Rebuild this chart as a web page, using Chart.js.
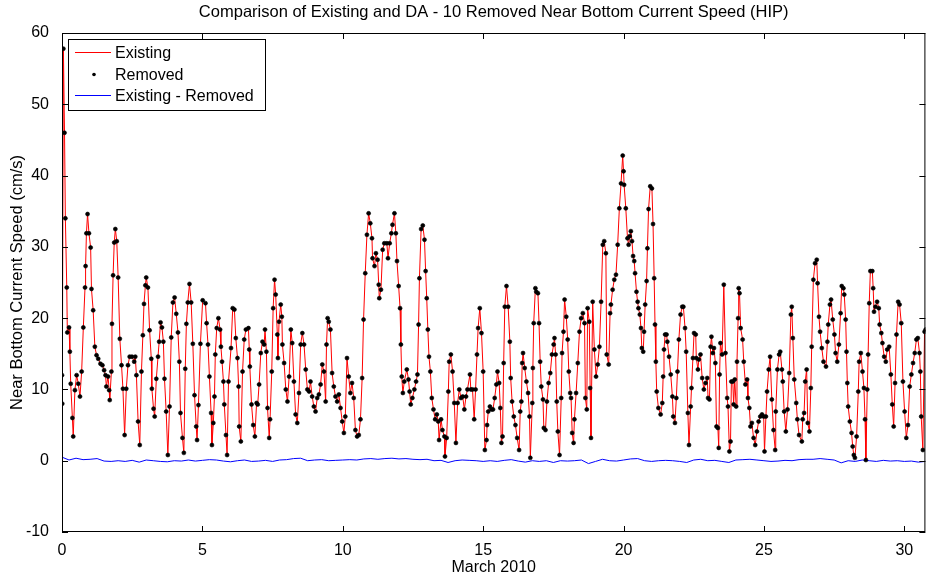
<!DOCTYPE html>
<html>
<head>
<meta charset="utf-8">
<title>Near Bottom Current Speed (HIP)</title>
<script src="https://cdn.jsdelivr.net/npm/chart.js@4.4.1/dist/chart.umd.min.js"></script>
<style>
  html, body { margin: 0; padding: 0; background: #fff; }
  #wrap { width: 930px; height: 579px; }
</style>
</head>
<body>
<div id="wrap"><canvas id="speed" width="930" height="579"></canvas></div>
<script>
// time in days since 1 March 2010
const days = [
  0.00, 0.01, 0.05, 0.09, 0.12, 0.17, 0.19, 0.25, 0.28, 0.31, 0.37, 0.40, 0.46, 0.52, 0.58, 0.64, 0.70, 0.76, 0.82, 0.84,
  0.87, 0.91, 0.96, 1.02, 1.05, 1.11, 1.17, 1.23, 1.29, 1.37, 1.44, 1.50, 1.55, 1.58, 1.64, 1.68, 1.70, 1.76, 1.78, 1.82,
  1.86, 1.90, 1.95, 2.00, 2.06, 2.12, 2.17, 2.23, 2.29, 2.35, 2.41, 2.49, 2.57, 2.61, 2.65, 2.71, 2.77, 2.83, 2.88, 2.92,
  2.97, 3.00, 3.06, 3.12, 3.18, 3.20, 3.26, 3.30, 3.36, 3.42, 3.46, 3.51, 3.56, 3.61, 3.65, 3.71, 3.77, 3.83, 3.89, 3.95,
  4.01, 4.07, 4.13, 4.18, 4.22, 4.29, 4.34, 4.39, 4.43, 4.48, 4.54, 4.60, 4.66, 4.72, 4.78, 4.81, 4.86, 4.93, 5.01,
  5.11, 5.15, 5.20, 5.25, 5.31, 5.34, 5.39, 5.43, 5.46, 5.51, 5.57, 5.63, 5.66, 5.70, 5.75, 5.78, 5.84, 5.88, 5.93, 6.02,
  6.08, 6.14, 6.19, 6.25, 6.29, 6.31, 6.37, 6.43, 6.49, 6.55, 6.64, 6.67, 6.69, 6.75, 6.81, 6.87, 6.93, 6.97, 7.02, 7.08,
  7.14, 7.20, 7.23, 7.28, 7.32, 7.38, 7.41, 7.47, 7.52, 7.57, 7.61, 7.67, 7.69, 7.73, 7.79, 7.83, 7.85, 7.91, 7.97, 8.03,
  8.09, 8.15, 8.20, 8.26, 8.32, 8.38, 8.44, 8.50, 8.56, 8.62, 8.68, 8.74, 8.80, 8.85, 8.91, 8.97, 9.03, 9.09, 9.15, 9.21,
  9.27, 9.33, 9.39, 9.42, 9.46, 9.50, 9.56, 9.62, 9.68, 9.74, 9.80,
  9.86, 9.92, 9.98, 10.04, 10.09, 10.15, 10.21, 10.27, 10.33, 10.39, 10.45, 10.51, 10.57, 10.63, 10.69, 10.74, 10.80, 10.86, 10.92, 10.98,
  11.04, 11.06, 11.13, 11.18, 11.24, 11.28, 11.30, 11.36, 11.42, 11.48, 11.57, 11.61, 11.67, 11.73, 11.77, 11.84, 11.89, 11.93, 11.99, 12.04,
  12.07, 12.10, 12.14, 12.19, 12.28, 12.34, 12.38, 12.42, 12.48, 12.55, 12.61, 12.66, 12.70, 12.73, 12.79, 12.85, 12.91, 12.95, 12.99, 13.03,
  13.07, 13.12, 13.17, 13.23, 13.29, 13.35, 13.40, 13.43, 13.50, 13.55, 13.62, 13.64, 13.70, 13.76, 13.79, 13.85, 13.91, 13.97, 14.03, 14.09,
  14.15, 14.21, 14.27, 14.33, 14.39, 14.44, 14.53, 14.56, 14.62, 14.68, 14.73, 14.78, 14.82, 14.88, 14.94, 15.00, 15.06,
  15.12, 15.14, 15.18, 15.24, 15.30, 15.35, 15.41, 15.47, 15.51, 15.57, 15.61, 15.65, 15.69, 15.73, 15.77, 15.83, 15.89, 15.95, 15.98, 16.03,
  16.09, 16.15, 16.21, 16.28, 16.32, 16.36, 16.39, 16.42, 16.48, 16.54, 16.60, 16.65, 16.68, 16.75, 16.77, 16.80, 16.86, 16.89, 16.95, 16.99,
  17.03, 17.07, 17.13, 17.16, 17.22, 17.27, 17.33, 17.39, 17.45, 17.51, 17.54, 17.58, 17.62, 17.66, 17.72, 17.78, 17.81, 17.86, 17.90, 17.96,
  18.01, 18.05, 18.10, 18.13, 18.17, 18.22, 18.25, 18.31, 18.37, 18.43, 18.49, 18.55, 18.61, 18.64, 18.69, 18.72, 18.78, 18.81, 18.84, 18.90,
  18.96, 19.02, 19.08, 19.14, 19.20, 19.26, 19.31, 19.37, 19.40, 19.47, 19.52, 19.55, 19.61, 19.67, 19.73, 19.79, 19.85, 19.91,
  19.97, 20.00, 20.02, 20.08, 20.14, 20.18, 20.22, 20.26, 20.30, 20.34, 20.38, 20.41, 20.46, 20.50, 20.53, 20.58, 20.62, 20.65, 20.70, 20.73,
  20.77, 20.82, 20.85, 20.89, 20.95, 21.01, 21.05, 21.09, 21.12, 21.15, 21.18, 21.24, 21.32, 21.38, 21.41, 21.44, 21.48, 21.53, 21.56, 21.62,
  21.68, 21.74, 21.77, 21.83, 21.88, 21.92, 21.97, 22.03, 22.09, 22.13, 22.19, 22.23, 22.29, 22.33, 22.39, 22.42, 22.47, 22.51, 22.57, 22.59,
  22.65, 22.68, 22.74, 22.80, 22.86, 22.92, 22.98, 23.01, 23.06, 23.10, 23.13, 23.18, 23.22, 23.27, 23.31, 23.36, 23.39, 23.42, 23.45, 23.51,
  23.57, 23.63, 23.69, 23.72, 23.77, 23.81, 23.84, 23.89, 23.92, 23.96, 24.01, 24.04, 24.08, 24.10, 24.13, 24.17, 24.24, 24.28, 24.34, 24.40,
  24.43, 24.48, 24.52, 24.57, 24.63, 24.69, 24.75, 24.81, 24.87, 24.93, 24.99, 25.02, 25.07, 25.11, 25.17, 25.22,
  25.28, 25.34, 25.40, 25.42, 25.48, 25.54, 25.58, 25.64, 25.67, 25.72, 25.78, 25.84, 25.90, 25.96, 25.99, 26.03, 26.08, 26.15, 26.19, 26.25,
  26.35, 26.38, 26.43, 26.47, 26.52, 26.56, 26.62, 26.67, 26.70, 26.76, 26.82, 26.88, 26.91, 26.96, 27.00, 27.06, 27.12, 27.21, 27.26, 27.29,
  27.35, 27.39, 27.45, 27.51, 27.55, 27.61, 27.67, 27.73, 27.77, 27.83, 27.86, 27.91, 27.94, 27.97, 28.00, 28.06, 28.12, 28.16, 28.20, 28.24,
  28.30, 28.36, 28.39, 28.45, 28.51, 28.56, 28.60, 28.63, 28.68, 28.71, 28.75, 28.79, 28.86, 28.89, 28.92, 28.97, 29.03, 29.09, 29.12, 29.18,
  29.22, 29.28, 29.34, 29.39, 29.46, 29.52, 29.57, 29.62, 29.67, 29.72, 29.78, 29.83, 29.89, 29.95, 30.01, 30.07, 30.13, 30.19, 30.25, 30.31,
  30.37, 30.43, 30.48, 30.54, 30.57, 30.60, 30.66, 30.72, 30.76
];

// near bottom current speed (cm/s), Existing and Removed overlap at this scale
const speed = [
  12.0, 8.0, 57.8, 46.0, 34.0, 24.3, 18.0, 18.7, 15.3, 10.8, 6.0, 3.4, 9.9, 12.0, 10.8, 9.0, 12.5, 18.7, 24.3, 27.3,
  31.9, 34.6, 31.9, 29.9, 24.1, 21.1, 16.0, 14.8, 14.3, 13.6, 13.4, 12.7, 12.0, 10.4, 11.8, 9.9, 8.5, 12.5, 19.2, 26.0,
  30.6, 32.5, 30.8, 25.7, 17.1, 13.4, 10.1, 3.6, 10.1, 13.4, 14.6, 14.6, 13.9, 14.6, 12.0, 5.5, 2.2, 12.5, 17.6, 22.0,
  24.6, 25.7, 24.3, 18.3, 14.3, 10.1, 7.3, 6.2, 11.5, 14.6, 16.7, 19.4, 18.7, 16.7, 11.5, 6.9, 0.8, 7.6, 17.3, 22.2,
  22.9, 20.6, 18.0, 13.9, 6.7, 3.2, 1.1, 12.9, 19.2, 22.2, 24.8, 22.2, 16.4, 9.2, 4.8, 2.9, 7.8, 16.4, 22.5,
  22.1, 19.3, 16.3, 11.8, 6.7, 2.2, 5.3, 9.0, 14.9, 18.6, 20.0, 18.4, 16.0, 13.9, 11.1, 7.9, 3.6, 0.8, 11.1, 15.8,
  21.4, 21.2, 17.2, 14.4, 10.4, 4.8, 2.7, 12.5, 17.0, 18.4, 18.6, 15.6, 13.2, 7.9, 5.0, 3.4, 8.1, 7.9, 10.7, 15.1,
  16.7, 16.3, 18.4, 15.3, 7.4, 3.2, 5.8, 12.5, 21.4, 25.4, 23.3, 17.7, 14.4, 19.5, 21.9, 20.2, 16.3, 13.7, 10.0, 8.3,
  11.8, 18.4, 16.5, 11.1, 6.5, 5.3, 9.5, 16.3, 17.9, 16.3, 12.8, 10.0, 9.7, 11.1, 9.0, 7.6, 6.9, 8.8, 9.3, 10.7,
  13.5, 12.5, 8.3, 16.3, 20.0, 19.5, 18.4, 12.3, 10.4, 9.0, 8.3,
  9.3, 7.4, 5.5, 3.9, 6.2, 14.4, 11.8, 9.5, 10.9, 8.8, 4.3, 3.4, 3.6, 5.8, 11.6, 19.8, 26.3, 31.7, 34.7, 33.3,
  31.2, 28.4, 27.3, 29.1, 28.2, 24.7, 22.8, 24.0, 29.6, 30.5, 30.5, 28.4, 30.5, 31.9, 33.1, 34.7, 31.9, 28.0, 24.5, 21.4,
  16.3, 11.8, 9.5, 11.1, 12.8, 11.4, 9.7, 7.9, 8.8, 10.0, 11.1, 12.1, 19.1, 25.6, 32.5, 33.0, 31.0, 26.6, 22.8, 18.4,
  14.6, 12.5, 8.8, 7.2, 5.8, 6.5, 5.5, 2.9, 5.8, 4.3, 3.4, 0.6, 3.2, 9.7, 13.9, 14.9, 12.5, 8.1, 2.5, 8.1,
  10.0, 8.8, 9.0, 7.2, 9.0, 10.0, 12.1, 10.0, 10.0, 5.8, 10.0, 14.9, 18.6, 21.4, 17.9, 12.5, 1.5,
  2.9, 5.0, 6.9, 7.6, 7.2, 7.2, 8.8, 10.7, 12.5, 10.9, 7.4, 2.5, 3.4, 13.7, 21.6, 24.5, 21.6, 16.7, 11.6, 8.3,
  6.2, 5.0, 3.2, 1.5, 6.9, 8.3, 13.7, 15.1, 13.0, 11.1, 9.5, 6.2, 0.4, 8.1, 13.0, 19.3, 24.2, 23.7, 23.5, 19.3,
  13.9, 10.4, 8.6, 4.6, 4.3, 8.3, 10.9, 12.3, 14.9, 16.3, 17.2, 14.9, 8.3, 4.1, 0.8, 8.8, 15.1, 18.1, 22.6, 20.2,
  17.0, 12.5, 9.5, 8.8, 3.9, 2.5, 5.8, 9.5, 13.7, 18.1, 20.0, 20.7, 19.3, 8.8, 7.2, 21.4, 19.5, 10.2, 3.2, 22.3,
  15.6, 11.8, 13.5, 16.0, 22.3, 30.3, 30.8, 29.1, 14.9, 13.5, 20.7, 21.9, 24.0, 25.4, 26.1, 30.3, 35.4, 38.9,
  42.8, 40.6, 38.7, 35.4, 31.2, 30.3, 31.5, 32.2, 30.8, 28.7, 28.0, 26.3, 23.7, 22.3, 21.4, 20.5, 18.6, 15.8, 15.3, 18.1,
  21.9, 25.2, 29.8, 35.3, 38.5, 38.2, 33.2, 25.6, 19.1, 13.9, 9.7, 7.4, 6.5, 8.1, 11.8, 15.6, 17.7, 17.7, 16.7, 14.6,
  12.1, 9.0, 6.2, 5.3, 8.8, 12.5, 17.0, 20.5, 21.6, 21.6, 18.6, 15.3, 6.7, 2.2, 7.6, 10.2, 14.4, 17.9, 17.7, 14.4,
  12.8, 14.2, 14.9, 11.6, 10.0, 10.9, 11.6, 8.8, 8.6, 16.0, 17.4, 15.1, 15.8, 13.7, 4.8, 4.6, 1.8, 12.1, 16.5, 14.9,
  24.7, 15.1, 8.8, 7.6, 1.3, 2.7, 11.1, 11.1, 7.9, 11.4, 7.6, 13.9, 20.0, 24.2, 23.5, 18.6, 17.0, 13.9, 10.7, 11.4,
  8.8, 7.4, 4.8, 5.3, 3.2, 2.2, 4.1, 5.5, 6.2, 6.5, 6.2, 1.3, 6.2, 9.7, 12.8, 14.6,
  8.6, 4.3, 1.5, 6.9, 12.8, 14.9, 15.3, 12.8, 11.1, 6.9, 4.1, 7.2, 12.3, 20.5, 21.6, 17.2, 11.4, 8.1, 5.8, 3.6,
  2.7, 5.8, 6.7, 11.1, 12.8, 5.3, 4.1, 10.2, 16.0, 25.4, 27.7, 28.2, 24.9, 20.2, 18.1, 15.8, 13.9, 13.2, 16.7, 19.1,
  21.9, 22.6, 19.8, 17.7, 15.1, 13.9, 16.3, 20.7, 24.5, 24.2, 23.3, 19.8, 15.3, 10.9, 7.6, 5.5, 3.9, 2.0, 0.8, 0.4,
  3.4, 9.7, 13.9, 15.1, 12.5, 10.2, 5.8, 0.1, 10.0, 14.9, 22.1, 26.6, 26.6, 24.2, 20.9, 21.6, 22.3, 21.4, 19.1, 17.9,
  16.5, 14.6, 13.9, 15.6, 16.0, 12.1, 7.9, 4.8, 10.9, 17.7, 22.3, 21.9, 19.3, 11.1, 6.9, 3.2, 5.0, 10.4, 12.1, 13.7,
  15.1, 17.0, 17.2, 15.1, 12.5, 6.2, 1.5, 18.1, 18.4
];

// Existing - Removed (cm/s), read every quarter day
const diffStep = 0.25;
const diff = [
  0.50, 0.10, 0.35, 0.15, 0.20, 0.30, -0.05, -0.10, 0.00, -0.10, 0.05, -0.20, 0.10, 0.00, -0.10, -0.15,
  0.00, -0.05, 0.10, -0.05, 0.05, 0.15, 0.10, -0.05, -0.15, 0.00, 0.10, -0.10, -0.05, 0.05, -0.10, 0.10,
  0.15, 0.30, 0.35, 0.00, 0.10, 0.15, 0.00, 0.05, 0.10, 0.15, 0.10, 0.25, 0.30, 0.20, 0.30, 0.35,
  0.25, 0.30, 0.20, 0.15, 0.20, 0.00, 0.05, -0.25, 0.00, 0.10, 0.05, 0.00, -0.10, 0.00, -0.10, 0.05,
  0.15, -0.05, -0.20, 0.00, -0.10, 0.00, -0.25, 0.00, -0.05, 0.00, 0.10, -0.40, -0.10, 0.20, 0.00, -0.05,
  0.10, 0.25, 0.30, 0.00, -0.10, 0.00, 0.05, 0.00, -0.10, -0.25, 0.10, 0.20, 0.00, 0.05, -0.10, -0.25,
  0.10, 0.15, 0.20, 0.10, 0.00, -0.10, -0.05, 0.05, 0.00, 0.15, 0.20, 0.20, 0.30, 0.20, 0.10, -0.30,
  0.00, -0.10, 0.10, 0.00, -0.10, 0.05, -0.05, 0.00, -0.10, -0.05, -0.20, -0.10
];

const xTicksMax = 30.75;
const yMin = -10;
const yMax = 60;

const FONT = '"Liberation Sans", Arial, Helvetica, sans-serif';

// MATLAB-style box with inward ticks + legend inside the axes
const axesBox = {
  id: "axesBox",
  afterDraw(chart) {
    const { ctx, chartArea: a, scales } = chart;
    const x = scales.x;
    const y = scales.y;
    ctx.save();
    ctx.strokeStyle = "#000";
    ctx.lineWidth = 1;
    ctx.strokeRect(a.left + 0.5, a.top + 0.5, a.right - a.left - 1, a.bottom - a.top - 1);

    ctx.beginPath();
    x.ticks.forEach((t) => {
      const px = Math.round(x.getPixelForValue(t.value)) + 0.5;
      ctx.moveTo(px, a.bottom);
      ctx.lineTo(px, a.bottom - 6);
      ctx.moveTo(px, a.top);
      ctx.lineTo(px, a.top + 6);
    });
    y.ticks.forEach((t) => {
      const py = Math.round(y.getPixelForValue(t.value)) + 0.5;
      ctx.moveTo(a.left, py);
      ctx.lineTo(a.left + 6, py);
      ctx.moveTo(a.right, py);
      ctx.lineTo(a.right - 6, py);
    });
    ctx.stroke();

    // legend
    const lx = a.left + 6;
    const ly = a.top + 6;
    ctx.fillStyle = "#fff";
    ctx.fillRect(lx, ly, 197, 71);
    ctx.strokeRect(lx + 0.5, ly + 0.5, 197, 71);

    const rows = [
      { text: "Existing", kind: "line", color: "#ff0000" },
      { text: "Removed", kind: "dot", color: "#000000" },
      { text: "Existing - Removed", kind: "line", color: "#0000ff" },
    ];
    ctx.font = "16px " + FONT;
    ctx.textBaseline = "middle";
    rows.forEach((r, i) => {
      const cy = ly + 14 + i * 21.5;
      if (r.kind === "line") {
        ctx.strokeStyle = r.color;
        ctx.beginPath();
        ctx.moveTo(lx + 7, Math.round(cy) - 0.5);
        ctx.lineTo(lx + 43, Math.round(cy) - 0.5);
        ctx.stroke();
      } else {
        ctx.fillStyle = r.color;
        ctx.beginPath();
        ctx.arc(lx + 26, cy, 1.8, 0, Math.PI * 2);
        ctx.fill();
      }
      ctx.fillStyle = "#000";
      ctx.fillText(r.text, lx + 47, cy + 1);
    });
    ctx.restore();
  },
};

const ctx = document.getElementById("speed").getContext("2d");

new Chart(ctx, {
  type: "line",
  data: {
    datasets: [
      {
        label: "Removed",
        data: days.map((d, i) => ({ x: d, y: speed[i] })),
        showLine: false,
        pointRadius: 2,
        pointBorderWidth: 0.6,
        pointBackgroundColor: "#000",
        pointBorderColor: "#000",
        order: 0,
      },
      {
        label: "Existing",
        data: days.map((d, i) => ({ x: d, y: speed[i] })),
        borderColor: "#ff0000",
        borderWidth: 1,
        pointRadius: 0,
        tension: 0,
        order: 1,
      },
      {
        label: "Existing - Removed",
        data: diff.map((v, i) => ({ x: i * diffStep, y: v })),
        borderColor: "#0000ff",
        borderWidth: 1,
        pointRadius: 0,
        tension: 0,
        order: 2,
      },
    ],
  },
  options: {
    responsive: false,
    animation: false,
    devicePixelRatio: 1,
    layout: {
      padding: { left: 0, right: 1, top: 0, bottom: 0 },
    },
    plugins: {
      legend: { display: false },
      tooltip: { enabled: false },
      title: {
        display: true,
        text: "Comparison of Existing and DA - 10 Removed Near Bottom Current Speed (HIP)",
        color: "#000",
        fullSize: false,
        font: { family: FONT, size: 16.5, weight: "normal" },
        padding: { top: 3, bottom: 10.2 },
      },
    },
    scales: {
      x: {
        type: "linear",
        min: 0,
        max: xTicksMax,
        afterFit: (scale) => {
          scale.height = 47;
        },
        grid: { display: false },
        border: { display: false },
        ticks: {
          stepSize: 5,
          includeBounds: false,
          maxRotation: 0,
          padding: 1,
          color: "#000",
          font: { family: FONT, size: 16 },
        },
        title: {
          display: true,
          text: "March 2010",
          color: "#000",
          font: { family: FONT, size: 16 },
          padding: { top: 0, bottom: 2 },
        },
      },
      y: {
        min: yMin,
        max: yMax,
        afterFit: (scale) => {
          scale.width = 62;
        },
        grid: { display: false },
        border: { display: false },
        ticks: {
          stepSize: 10,
          padding: 5,
          color: "#000",
          font: { family: FONT, size: 16 },
        },
        title: {
          display: true,
          text: "Near Bottom Current Speed (cm/s)",
          color: "#000",
          font: { family: FONT, size: 16.5 },
          padding: { top: 8, bottom: 0 },
        },
      },
    },
  },
  plugins: [axesBox],
});
</script>
</body>
</html>
